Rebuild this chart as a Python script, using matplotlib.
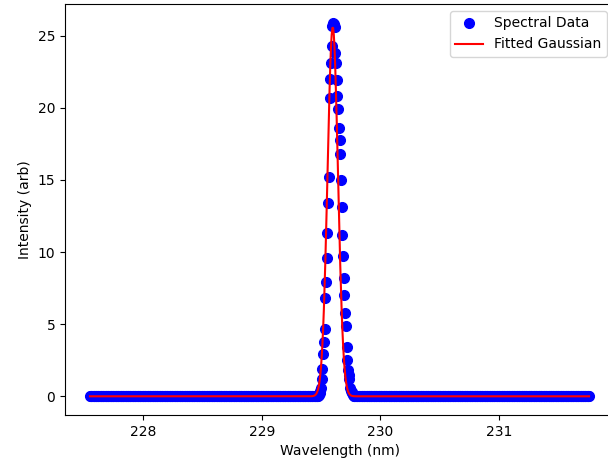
import matplotlib
matplotlib.use("Agg")
import matplotlib.pyplot as plt
import numpy as np

# wavelength grid of the spectrometer (nm)
wl_start = 227.55
wl_end = 231.76
n_points = 703

# intensities around the line, everything else sits at zero
peak_start_index = 321
peak_values = [0.05, 0.1, 0.2, 0.35, 0.6, 1.2, 1.9, 2.9, 3.75, 4.7, 6.8, 7.9,
               9.6, 11.3, 13.4, 15.2, 20.7, 22.0, 23.1, 24.3, 25.7, 25.9, 25.8,
               25.6, 23.8, 23.1, 21.9, 20.8, 19.9, 18.6, 17.8, 16.8, 15.0, 13.1,
               11.2, 9.7, 8.2, 7.0, 5.8, 4.9, 3.4, 2.5, 1.8, 1.5, 1.2, 0.6, 0.4,
               0.3, 0.2, 0.1]

# fit result
amp = 25.6
center = 229.598
sigma = 0.044

wavelength = np.linspace(wl_start, wl_end, n_points)
intensity = np.zeros(n_points)
intensity[peak_start_index:peak_start_index + len(peak_values)] = peak_values


def gaussian(x, a, mu, s):
    return a * np.exp(-(x - mu) ** 2 / (2 * s ** 2))


fig = plt.figure(figsize=(6.08, 4.68), dpi=100)
ax = fig.add_axes([65 / 608, 1 - 415 / 468, 549 / 608, 411 / 468])

ax.plot(wavelength, intensity, 'bo', markersize=7, label='Spectral Data')
ax.plot(wavelength, gaussian(wavelength, amp, center, sigma), 'r-', label='Fitted Gaussian')

ax.set_xlabel('Wavelength (nm)')
ax.set_ylabel('Intensity (arb)')
ax.legend(loc='upper right')

fig.savefig('out.png', dpi=100)
